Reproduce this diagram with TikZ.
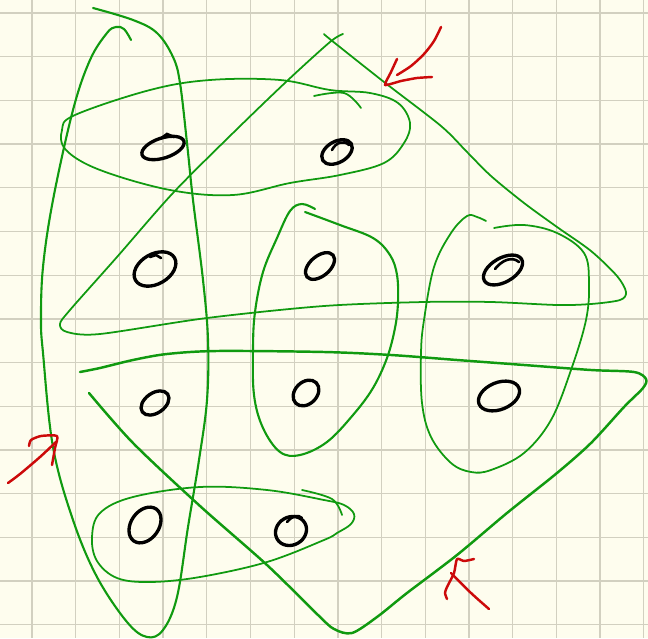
\documentclass[tikz,border=0pt]{standalone}
\usepackage{tikz}
\usetikzlibrary{shapes.geometric}
\definecolor{paper}{HTML}{FEFDEE}
\definecolor{rule}{HTML}{D2D0C0}
\definecolor{pengreen}{HTML}{109A10}
\definecolor{penred}{HTML}{CC0A0A}

\begin{document}
\begin{tikzpicture}[
        x=0.02cm, y=-0.02cm,
        gridline/.style={draw=rule, line width=0.7pt},
        vertex/.style={draw=black, ellipse, line width=1.9pt, inner sep=0pt},
        vsize/.style 2 args={minimum width=#1*0.2mm, minimum height=#2*0.2mm},
        vstroke/.style={draw=black, line width=1.5pt, line cap=round},
        hedge/.style={draw=pengreen, line width=1pt, line cap=round, line join=round},
        redpen/.style={draw=penred, line width=1.4pt, line cap=round, line join=round}
      ]
      % paper and squares
      \fill[paper] (0,0) rectangle (648,638);
      \useasboundingbox (0,0) rectangle (648,638);
      \foreach \i in {0,...,14} {
        \draw[gridline] ({32+43.7*\i},0) -- ({32+43.7*\i},638);
        \draw[gridline] (0,{13+43.7*\i}) -- (648,{13+43.7*\i});
      }

      % vertices
      \node[vertex, vsize={44}{20}, rotate=18] (v1)  at (163,148) {};
      \node[vertex, vsize={33}{21}, rotate=30] (v2)  at (337,152) {};
      \node[vertex, vsize={45}{30}, rotate=30] (v3)  at (155,269) {};
      \node[vertex, vsize={34}{20}, rotate=40] (v4)  at (320,266) {};
      \node[vertex, vsize={43}{24}, rotate=30] (v5)  at (503,270) {};
      \node[vertex, vsize={31}{20}, rotate=35] (v6)  at (155,403) {};
      \node[vertex, vsize={29}{22}, rotate=45] (v7)  at (306,393) {};
      \node[vertex, vsize={43}{27}, rotate=22] (v8)  at (499,396) {};
      \node[vertex, vsize={39}{28}, rotate=55] (v9)  at (145,525) {};
      \node[vertex, vsize={32}{28}, rotate=30] (v10) at (291,531) {};
      % little pen hooks on the vertices
      \draw[vstroke] (160,139) -- (167,134) -- (174,137);
      \draw[vstroke] (332,150) .. controls (336,142) and (344,140) .. (349,145);
      \draw[vstroke] (495,269) .. controls (502,260) and (512,256) .. (519,262);
      \draw[vstroke] (150,257) -- (156,255) -- (161,258);
      \draw[vstroke] (287,522) .. controls (292,516) and (298,514) .. (302,518);

      % hyperedges
      \draw[hedge] plot[smooth cycle, tension=0.6] coordinates {
        (330,90) (370,93) (398,103) (410,123) (404,143) (384,163) (340,175)
        (290,183) (233,195) (170,190) (100,170) (66,150) (62,130) (75,115)
        (150,90) (210,80) (280,80)};
      \draw[hedge] plot[smooth, tension=0.6] coordinates {(314,96) (344,93) (361,108)};

      \draw[hedge, line width=1.2pt] plot[smooth, tension=0.6] coordinates {
        (93,8) (133,20) (157,33) (173,57) (180,83) (187,143) (193,200) (203,280)
        (208,340) (207,400) (199,460) (188,527) (177,597) (163,630) (147,637)
        (127,622) (97,577) (73,520) (53,447) (43,353) (41,320) (43,267) (53,200)
        (73,110) (90,60) (107,33) (116,27) (124,29) (131,40)};

      \draw[hedge] plot[smooth, tension=0.5] coordinates {
        (324,34) (331,40) (384,82) (441,126) (467,152) (491,176)
        (524,203) (557,227) (591,251) (617,276) (626,292) (620,300) (591,304)
        (557,305) (491,302) (424,302) (324,306) (207,318) (100,334) (67,332)
        (60,324) (70,310) (117,257) (173,193) (233,133) (287,81) (330,42) (343,34)};

      \draw[hedge, line width=1.2pt] plot[smooth, tension=0.6] coordinates {
        (305,212) (340,225) (373,238) (390,255) (397,275) (398,302) (395,328)
        (387,358) (373,388) (353,415) (327,442) (300,455) (280,452) (263,428)
        (254,395) (253,348) (255,312) (263,272) (277,238) (290,211) (302,204)
        (315,209)};

      \draw[hedge] plot[smooth, tension=0.6] coordinates {
        (494,228) (524,225) (557,233) (584,253) (589,283) (586,320) (571,370)
        (551,420) (524,453) (491,470) (471,472) (451,463) (431,437) (422,403)
        (421,353) (424,320) (434,267) (451,233) (467,216) (477,217) (486,221)};

      \draw[hedge, line width=1.4pt] plot[smooth, tension=0.5] coordinates {
        (80,372) (100,368) (133,360) (167,354) (217,351) (324,352) (391,355)
        (457,360) (524,365) (591,370) (634,372) (646,379) (643,388) (624,407)
        (591,443) (557,473) (507,513) (457,555) (407,593) (377,617) (352,633)
        (334,629) (318,615) (267,565) (200,506) (133,443) (89,393)};

      \draw[hedge] plot[smooth cycle, tension=0.6] coordinates {
        (100,513) (133,497) (200,487) (267,490) (324,500) (344,505) (354,514)
        (351,524) (337,533) (324,540) (267,562) (200,577) (150,582) (117,578)
        (97,561) (92,537)};
      \draw[hedge] plot[smooth, tension=0.6] coordinates {(302,490) (332,499) (342,515)};

      % red pointers
      \draw[redpen] plot[smooth] coordinates {(441,27) (434,41) (424,54) (411,66) (397,75)};
      \draw[redpen] plot[smooth, tension=0.3] coordinates {(397,59) (391,72) (385,85) (401,81) (417,78) (432,77)};
      \draw[redpen] plot[smooth] coordinates {(8,483) (20,474) (40,457) (56,442)};
      \draw[redpen] plot[smooth, tension=0.4] coordinates {(29,446) (31,440) (41,436) (57,436) (55,448) (52,465)};
      \draw[redpen] plot[smooth] coordinates {(489,609) (471,593) (451,573)};
      \draw[redpen] plot[smooth, tension=0.4] coordinates {(474,559) (464,561) (457,559) (454,573) (447,587) (445,593) (447,599)};
    \end{tikzpicture}
\end{document}
